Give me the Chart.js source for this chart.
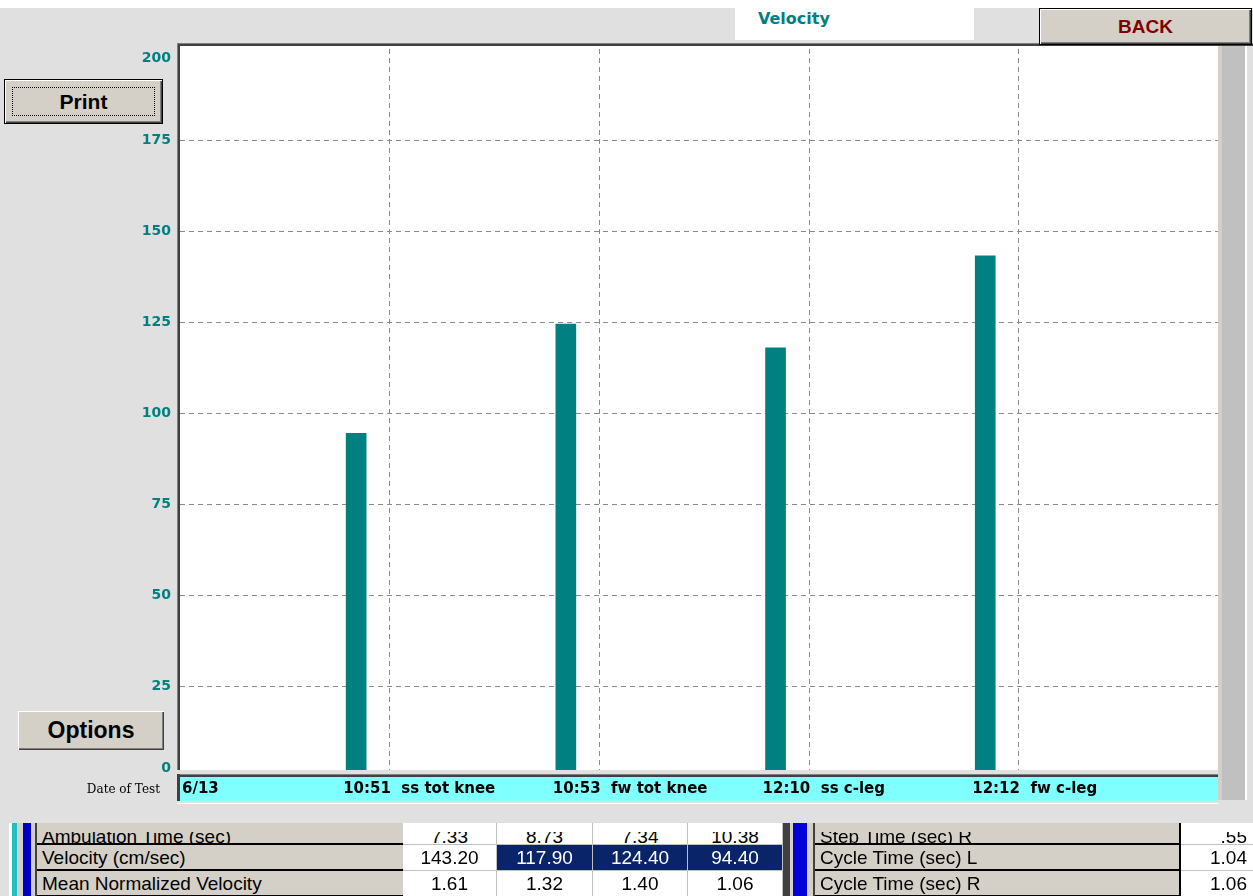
<!DOCTYPE html>
<html>
<head>
<meta charset="utf-8">
<script src="https://cdn.jsdelivr.net/npm/chart.js@4.4.1/dist/chart.umd.min.js"></script>
<style>
body { margin: 0; width: 1253px; height: 896px; background: #e0e0e0; overflow: hidden; position: relative; font-family: 'Liberation Sans', Arial, sans-serif; }
#topstrip { position: absolute; left: 0; top: 0; width: 1253px; height: 8px; background: #fff; }
#chartBox { position: absolute; left: 0; top: 0; width: 1253px; height: 810px; }
.btn { position: absolute; z-index: 2; background: #d4d0c8; box-sizing: border-box; display: flex; align-items: center; justify-content: center; font-weight: bold; color: #000;
  box-shadow: inset 1px 1px #fff, inset -1px -1px #404040, inset -2px -2px #808080; }
.btn.def { border: 1px solid #000; }
#print { left: 4px; top: 79px; width: 159px; height: 45px; font-size: 21px; }
#print .focus { position: absolute; left: 7px; top: 7px; right: 7px; bottom: 7px; border: 1px dotted #000; }
#options { left: 18px; top: 711px; width: 146px; height: 39px; font-size: 23px; }
#back { left: 1039px; top: 8px; width: 213px; height: 37px; font-size: 19px; color: #800000; }
#tab { position: absolute; z-index: 2; left: 735px; top: 8px; width: 239px; height: 32px; background: #fff;
  font: bold 16px 'DejaVu Sans', sans-serif; color: #008080; line-height: 22px; box-sizing: border-box; padding-left: 23px; }
#grid { position: absolute; left: 0; top: 806px; width: 1253px; height: 90px; }
.cell { position: absolute; box-sizing: border-box; overflow: hidden; font-size: 19px; white-space: nowrap; }
.clip { position: absolute; left: 0; right: 0; overflow: hidden; }
</style>
</head>
<body>
<div id="topstrip"></div>
<div id="tab">Velocity</div>
<div id="back" class="btn def">BACK</div>
<div id="print" class="btn def"><span class="focus"></span>Print</div>
<div id="options" class="btn">Options</div>
<div id="chartBox"><canvas id="velocity-chart"></canvas></div>
<div id="grid"></div>
<script>
// valores del grafico
const testDate = '6/13';
const testNo = [1, 2, 3, 4];
const testLabels = ['10:51  ss tot knee', '10:53  fw tot knee', '12:10  ss c-leg', '12:12  fw c-leg'];
const velocity = [94.4, 124.4, 117.9, 143.2];
const yTicks = [0, 25, 50, 75, 100, 125, 150, 175, 200];

// tabla de abajo
const leftRows = ['Ambulation Time (sec)', 'Velocity (cm/sec)', 'Mean Normalized Velocity'];
const leftValues = [
    ['7.33', '8.73', '7.34', '10.38'],
    ['143.20', '117.90', '124.40', '94.40'],
    ['1.61', '1.32', '1.40', '1.06']
];
const rightRows = ['Step Time (sec) R', 'Cycle Time (sec) L', 'Cycle Time (sec) R'];
const rightValues = ['.55', '1.04', '1.06'];

const colShift = 0.16;

// fondo blanco, marcos, banda cyan y textos
const panel = {
    id: 'panel',
    beforeDraw(chart) {
        const { ctx, chartArea: a } = chart;
        const bot = a.bottom - 7;
        ctx.save();
        ctx.fillStyle = '#fff';
        ctx.fillRect(a.left, a.top - 3, a.right - a.left, bot - a.top + 3);
        ctx.fillStyle = '#808080';
        ctx.fillRect(a.left - 3, a.top - 6, chart.width, 1);
        ctx.fillRect(a.left - 3, a.top - 6, 1, bot - a.top + 6);
        ctx.fillStyle = '#404040';
        ctx.fillRect(a.left - 2, a.top - 5, chart.width, 2);
        ctx.fillRect(a.left - 2, a.top - 5, 2, bot - a.top + 5);
        ctx.fillStyle = '#d4d0c8';
        ctx.fillRect(a.right, a.top - 3, 4, 754);
        ctx.fillStyle = '#c0c0c0';
        ctx.fillRect(a.right + 4, a.top - 3, 23, 754);
        ctx.fillStyle = '#fff';
        ctx.fillRect(a.right + 27, a.top - 3, 2, 754);
        ctx.restore();
    },
    afterDraw(chart) {
        const { ctx, chartArea: a, scales } = chart;
        const bot = a.bottom - 7;
        ctx.save();
        ctx.fillStyle = '#e0e0e0';
        ctx.fillRect(a.left - 3, bot, a.right - a.left + 3, 40);
        ctx.fillStyle = '#808080';
        ctx.fillRect(a.left - 3, a.bottom - 3, a.right - a.left + 3, 1);
        ctx.fillStyle = '#404040';
        ctx.fillRect(a.left - 2, a.bottom - 2, a.right - a.left + 2, 2);
        ctx.fillRect(a.left - 3, a.bottom - 3, 3, 27);
        ctx.fillStyle = '#80ffff';
        ctx.fillRect(a.left, a.bottom, a.right - a.left, 24);
        ctx.fillStyle = '#fff';
        ctx.fillRect(a.left - 3, a.bottom + 26, a.right - a.left + 3, 1);

        // etiquetas de la banda
        ctx.fillStyle = '#000';
        ctx.font = 'bold 15px "DejaVu Sans"';
        ctx.textBaseline = 'middle';
        ctx.textAlign = 'left';
        ctx.fillText(testDate, a.left + 2, a.bottom + 12);
        testNo.forEach((n, i) => {
            ctx.fillText(testLabels[i], scales.x.getPixelForValue(n) - 13, a.bottom + 12);
        });

        ctx.font = '12px "DejaVu Serif"';
        ctx.textAlign = 'right';
        ctx.fillText('Date of Test', a.left - 20, a.bottom + 13);

        // etiquetas del eje y
        ctx.fillStyle = '#008080';
        ctx.font = 'bold 14px "DejaVu Sans"';
        yTicks.forEach((v) => {
            let py = scales.y.getPixelForValue(v);
            py = Math.min(Math.max(py, a.top + 9), a.bottom - 9);
            ctx.fillText(String(v), a.left - 9, py);
        });
        ctx.restore();
    }
};

function makeVelocityChart() {
    const ctx = document.getElementById('velocity-chart').getContext('2d');
    const gridOpts = { color: '#8a8a8a', drawTicks: false, offset: false };
    const borderOpts = { display: false, dash: [5, 4] };
    const myChart = new Chart(ctx, {
        type: 'bar',
        data: {
            datasets: [{
                data: testNo.map((n, i) => ({ x: n, y: velocity[i] })),
                backgroundColor: '#008080',
                barThickness: 20
            }]
        },
        options: {
            responsive: true,
            maintainAspectRatio: false,
            animation: false,
            layout: { padding: { left: 180, right: 35, top: 49, bottom: 33 } },
            plugins: { legend: { display: false }, tooltip: { enabled: false } },
            scales: {
                x: {
                    type: 'linear',
                    offset: false,
                    min: colShift,
                    max: colShift + 4.95,
                    afterBuildTicks: (ax) => { ax.ticks = testNo.map((n) => ({ value: n + colShift })); },
                    ticks: { display: false },
                    grid: gridOpts,
                    border: borderOpts
                },
                y: {
                    min: 0,
                    max: 200,
                    afterBuildTicks: (ax) => { ax.ticks = yTicks.slice(1, -1).map((v) => ({ value: v })); },
                    ticks: { display: false },
                    grid: gridOpts,
                    border: borderOpts
                }
            }
        },
        plugins: [panel]
    });
    myChart.render();
}

// tabla con divs
function makeGrid() {
    const grid = document.getElementById('grid');
    const add = (x, y, w, h, style) => {
        const d = document.createElement('div');
        d.className = 'cell';
        d.style.cssText = `left:${x}px;top:${y}px;width:${w}px;height:${h}px;` + style;
        grid.appendChild(d);
        return d;
    };
    const top = 17;      // zona visible de la tabla
    const rowH = 26;
    const rowY = [top - 4, top + 22, top + 48];
    const h = 90 - top;
    // franjas de la izquierda
    add(9, top, 3, h, 'background:#fff');
    add(12, top, 5, h, 'background:#20c0c0');
    add(17, top, 6, h, 'background:#d4d0c8');
    add(23, top, 8, h, 'background:#0000c8');
    add(31, top, 4, h, 'background:#d4d0c8');
    add(35, top, 2, h, 'background:#404040');
    add(783, top, 7, h, 'background:#404040');
    add(790, top, 3, h, 'background:#d4d0c8');
    add(793, top, 14, h, 'background:#0000d8');
    add(807, top, 6, h, 'background:#d4d0c8');
    add(813, top, 2, h, 'background:#404040');
    add(1179, top, 2, h, 'background:#000');

    // la primera fila queda medio tapada
    const inner = (r, pos) => {
        if (r > 0) return `<div style="position:absolute;${pos};top:0;line-height:${rowH}px">`;
        return `<div class="clip" style="top:9px;bottom:0"><div style="position:absolute;${pos};top:-8px;line-height:${rowH}px">`;
    };
    const close = (r) => (r > 0 ? '</div>' : '</div></div>');

    const valX = [403, 497, 593, 688, 783];
    leftRows.forEach((label, r) => {
        const y = Math.max(rowY[r], top);
        const hh = rowY[r] + rowH - y;
        const lab = add(37, y, 366, hh, 'background:#d4d0c8;border-bottom:2px solid #000;');
        lab.innerHTML = inner(r, 'left:5px') + label + close(r);
        leftValues[r].forEach((v, c) => {
            const sel = r === 1 && c > 0;
            const cell = add(valX[c], y, valX[c + 1] - valX[c], hh,
                `background:${sel ? '#0a246a' : '#fff'};color:${sel ? '#fff' : '#000'};border-right:1px solid #c0c0c0;border-bottom:1px solid #c0c0c0;`);
            cell.innerHTML = inner(r, 'left:0;right:0;text-align:center') + v + close(r);
        });
        const rl = add(815, y, 364, hh, 'background:#d4d0c8;border-bottom:2px solid #000;');
        rl.innerHTML = inner(r, 'left:5px') + rightRows[r] + close(r);
        const rv = add(1181, y, 72, hh, 'background:#fff;border-bottom:1px solid #c0c0c0;');
        rv.innerHTML = inner(r, 'right:6px') + rightValues[r] + close(r);
    });
}

makeVelocityChart();
makeGrid();
</script>
</body>
</html>
